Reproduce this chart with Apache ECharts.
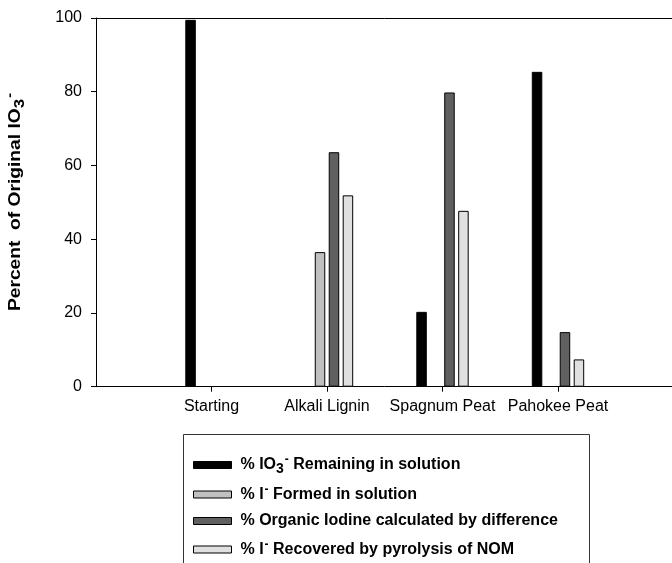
<!DOCTYPE html>
<html>
<head>
<meta charset="utf-8">
<script src="https://cdn.jsdelivr.net/npm/echarts@6/dist/echarts.min.js"></script>
<style>html,body{margin:0;padding:0;background:#fff}#c{width:672px;height:563px}</style>
</head>
<body>
<div id="c"></div>
<script>
var categories = ['', 'Starting', 'Alkali Lignin', 'Spagnum Peat', 'Pahokee Peat', ''];
var seriesNames = [
  '% IO3- Remaining in solution',
  '% I- Formed in solution',
  '% Organic Iodine calculated by difference',
  '% I- Recovered by pyrolysis of NOM'
];
var legendRich = [
  '{n|% IO}{sub|3}{sup|-}{n| Remaining in solution}',
  '{n|% I}{sup|-}{n| Formed in solution}',
  '{n|% Organic Iodine calculated by difference}',
  '{n|% I}{sup|-}{n| Recovered by pyrolysis of NOM}'
];
var remaining = [null, 99.5, null, 20.3, 85.4, null];
var formed    = [null, null, 36.5, null, null, null];
var organic   = [null, null, 63.6, 79.8, 14.8, null];
var pyrolysis = [null, null, 51.9, 47.7, 7.4, null];
var yTicks = [0, 20, 40, 60, 80, 100];

var colors = ['#000000', '#c0c0c0', '#606060', '#e0e0e0'];
var FONT = "'Liberation Sans', Arial, sans-serif";
var values = [remaining, formed, organic, pyrolysis];

var rich = {
  n: {fontFamily: FONT, fontWeight: 'bold', fontSize: 16, color: '#000', lineHeight: 22, verticalAlign: 'middle'},
  sub: {fontFamily: FONT, fontWeight: 'bold', fontSize: 14, color: '#000', lineHeight: 22, verticalAlign: 'bottom', padding: [0, 0, 0, 0]},
  sup: {fontFamily: FONT, fontWeight: 'bold', fontSize: 12, color: '#000', lineHeight: 22, verticalAlign: 'top', padding: [0, 0, 0, 1]}
};

var chart = echarts.init(document.getElementById('c'), null, {renderer: 'canvas'});

var legendRows = [465, 494.5, 521, 549.5];
var legends = seriesNames.map(function (n, i) {
  return {
    data: [n],
    left: 193,
    top: legendRows[i] - 11,
    padding: 0,
    itemWidth: 38,
    itemHeight: 7,
    selectedMode: false,
    icon: 'rect',
    itemStyle: {borderColor: '#000', borderWidth: 1},
    formatter: function () { return legendRich[i]; },
    textStyle: {fontFamily: FONT, fontWeight: 'bold', fontSize: 16, color: '#000', lineHeight: 22, padding: [0, 0, 0, 4], rich: rich}
  };
});

var option = {
  animation: false,
  backgroundColor: '#fff',
  grid: {left: 96, top: 18, right: -1.5, bottom: 176.3, outerBoundsMode: 'none', containLabel: false},
  xAxis: [{
    type: 'category',
    data: categories,
    boundaryGap: false,
    axisLine: {lineStyle: {color: '#000', width: 1}},
    axisTick: {show: true, length: 5, inside: false, lineStyle: {color: '#000'},
      interval: function (idx) { return idx > 0 && idx < categories.length - 1; }},
    axisLabel: {interval: 0, margin: 12, fontFamily: FONT, fontSize: 16, color: '#000'},
    splitLine: {show: false}
  }, {
    type: 'category',
    position: 'top',
    data: categories,
    boundaryGap: false,
    axisLine: {show: true, lineStyle: {color: '#000', width: 1}},
    axisTick: {show: false},
    axisLabel: {show: false},
    splitLine: {show: false}
  }],
  yAxis: {
    type: 'value',
    min: 0, max: 100, interval: 20,
    axisLine: {show: true, lineStyle: {color: '#000', width: 1}},
    axisTick: {show: true, length: 5, lineStyle: {color: '#000'}},
    axisLabel: {margin: 14, fontFamily: FONT, fontSize: 16, color: '#000',
      formatter: function (v) { return yTicks.indexOf(v) >= 0 ? String(v) : ''; }},
    splitLine: {show: false}
  },
  legend: legends,
  graphic: [
    {type: 'rect', shape: {x: 183.5, y: 434.5, width: 406, height: 140}, style: {fill: 'none', stroke: '#333', lineWidth: 1}, z: 1},
    {type: 'text', x: 16, y: 202, rotation: Math.PI / 2, scaleX: 1.2, scaleY: 1,
      style: {text: '{n|Percent  of Original IO}{sub|3}{sup|-}', rich: rich, fill: '#000', align: 'center', verticalAlign: 'middle'}}
  ],
  series: seriesNames.map(function (n, i) {
    return {
      name: n,
      type: 'bar',
      xAxisIndex: 0,
      data: values[i],
      barWidth: 10.5,
      barGap: '33%',
      itemStyle: {color: colors[i], borderColor: '#000', borderWidth: 1},
      emphasis: {disabled: true}
    };
  })
};
chart.setOption(option);
</script>
</body>
</html>
